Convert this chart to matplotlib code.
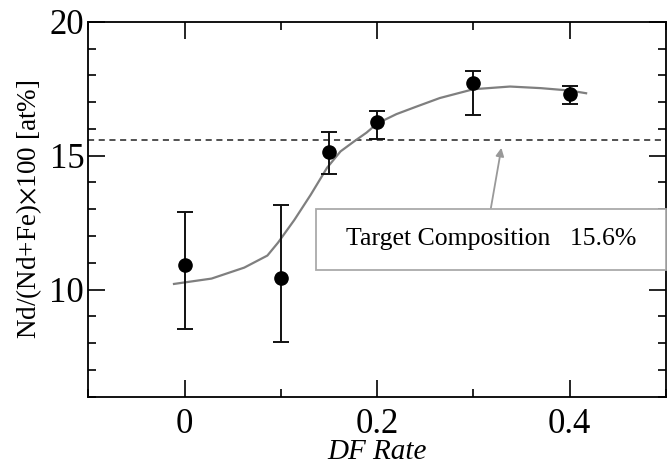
import matplotlib
matplotlib.use("Agg")
import matplotlib.pyplot as plt
from matplotlib.ticker import MultipleLocator
from matplotlib.patches import Rectangle

plt.rcParams['font.family'] = ['Liberation Serif', 'DejaVu Serif']
plt.rcParams['mathtext.fontset'] = 'stix'

# data
df_rate = [0.0, 0.1, 0.15, 0.2, 0.3, 0.4]
nd_ratio = [10.9, 10.43, 15.12, 16.24, 17.7, 17.3]
err_top = [12.88, 13.15, 15.87, 16.68, 18.16, 17.6]
err_bot = [8.51, 8.05, 14.33, 15.63, 16.52, 16.94]

fit_x = [-0.011, 0.028, 0.062, 0.086, 0.097, 0.114, 0.131, 0.148, 0.162, 0.176,
         0.189, 0.2, 0.22, 0.24, 0.265, 0.3, 0.338, 0.37, 0.4, 0.417]
fit_y = [10.21, 10.41, 10.82, 11.27, 11.75, 12.6, 13.54, 14.55, 15.16, 15.53,
         15.86, 16.2, 16.55, 16.82, 17.15, 17.48, 17.58, 17.52, 17.43, 17.33]

target = 15.6
x_ticks = [0, 0.2, 0.4]
x_ticklabels = ['0', '0.2', '0.4']
y_ticks = [10, 15, 20]
y_ticklabels = ['10', '15', '20']

fig = plt.figure(figsize=(6.72, 4.66), dpi=100)
ax = fig.add_axes([0.1314, 0.1487, 0.8597, 0.8047])

ax.plot(fit_x, fit_y, color='#7f7f7f', lw=1.6, zorder=2)
ax.axhline(target, color='#222222', lw=1.1, ls=(0, (4, 3)), zorder=1)

yerr_lo = [v - b for v, b in zip(nd_ratio, err_bot)]
yerr_hi = [t - v for v, t in zip(nd_ratio, err_top)]
ax.errorbar(df_rate, nd_ratio, yerr=[yerr_lo, yerr_hi], fmt='o', color='black',
            ms=9.5, ecolor='#111111', elinewidth=1.4, capsize=6, capthick=1.4, zorder=3)

ax.annotate('', xy=(0.329, 15.29), xytext=(0.318, 13.02),
            arrowprops=dict(arrowstyle='-|>', color='#999999', lw=1.3,
                            mutation_scale=12, shrinkA=0, shrinkB=0), zorder=4)
ax.add_patch(Rectangle((0.1365, 10.72), 0.5 - 0.1365, 13.02 - 10.72,
                       fc='white', ec='#aaaaaa', lw=1.3, zorder=5, clip_on=False))
ax.text((0.1365 + 0.5) / 2, (10.72 + 13.02) / 2, 'Target Composition   15.6%',
        ha='center', va='center', fontsize=18.5, zorder=6)

ax.set_xlim(-0.1, 0.5)
ax.set_ylim(6, 20)
ax.set_xticks(x_ticks)
ax.set_xticklabels(x_ticklabels)
ax.set_yticks(y_ticks)
ax.set_yticklabels(y_ticklabels)
ax.xaxis.set_minor_locator(MultipleLocator(0.1))
ax.yaxis.set_minor_locator(MultipleLocator(1))
ax.tick_params(which='both', direction='in', top=True, right=True, labelsize=25, width=1.2)
ax.tick_params(which='major', length=12)
ax.tick_params(which='minor', length=6)
ax.tick_params(axis='x', which='major', pad=8)
ax.tick_params(axis='y', which='major', pad=3)
for s in ax.spines.values():
    s.set_linewidth(1.3)

ax.set_xlabel('DF Rate', fontsize=21, style='italic', va='center')
ax.xaxis.set_label_coords(0.5, -0.147)
ax.set_ylabel('Nd/(Nd+Fe)$\\times$100 [at%]', fontsize=19.5, va='center')
ax.yaxis.set_label_coords(-0.103, 0.5)

fig.savefig('out.png', dpi=100)
